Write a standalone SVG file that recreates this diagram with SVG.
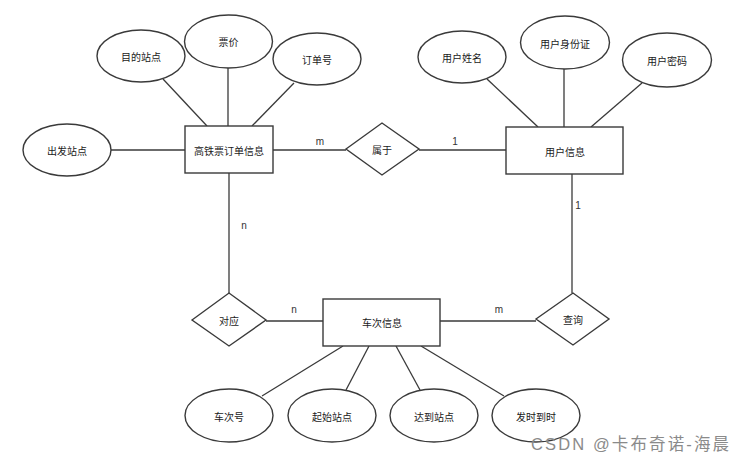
<svg xmlns="http://www.w3.org/2000/svg" width="743" height="465" viewBox="0 0 743 465">
<style>
.shape{fill:#fff;stroke:#3a3a3a;stroke-width:1.4}
.conn line{stroke:#3a3a3a;stroke-width:1.3}
.t{font-family:"Noto Sans CJK SC","Liberation Sans",sans-serif;font-size:10px;fill:#1a1a1a;text-anchor:middle;dominant-baseline:central}
.lbl{font-family:"Liberation Sans",sans-serif;font-size:10px;fill:#333;text-anchor:middle;dominant-baseline:central}
.wm{font-family:"Liberation Sans","Noto Sans CJK SC",sans-serif;font-size:16.5px;fill:#8a8a8a}
</style>
<rect width="743" height="465" fill="#fff"/>
<g id="connectors" class="conn">
<line x1="163" y1="79" x2="207" y2="126"/>
<line x1="228" y1="68" x2="228" y2="126"/>
<line x1="294" y1="83" x2="252" y2="126"/>
<line x1="111" y1="150" x2="185" y2="150"/>
<line x1="273" y1="150" x2="346" y2="150"/>
<line x1="419" y1="150" x2="506" y2="150"/>
<line x1="487" y1="79" x2="538" y2="127"/>
<line x1="564" y1="69" x2="564" y2="127"/>
<line x1="642" y1="83" x2="591" y2="127"/>
<line x1="229" y1="173" x2="229" y2="293"/>
<line x1="572" y1="174" x2="572" y2="293"/>
<line x1="266" y1="321" x2="323" y2="321"/>
<line x1="440" y1="321" x2="536" y2="321"/>
<line x1="262" y1="396" x2="343" y2="346"/>
<line x1="346" y1="390" x2="369" y2="346"/>
<line x1="420" y1="390" x2="396" y2="346"/>
<line x1="504" y1="396" x2="421" y2="346"/>
</g>
<g id="order"><rect class="shape" x="185" y="126" width="88" height="47"/><text class="t" x="229" y="150">高铁票订单信息</text></g>
<g id="dest"><ellipse class="shape" cx="141" cy="56" rx="44" ry="26"/><text class="t" x="141" y="56">目的站点</text></g>
<g id="price"><ellipse class="shape" cx="228.5" cy="41.5" rx="44" ry="26.5"/><text class="t" x="228.5" y="41">票价</text></g>
<g id="orderno"><ellipse class="shape" cx="317" cy="59" rx="44" ry="26"/><text class="t" x="317" y="59">订单号</text></g>
<g id="depart"><ellipse class="shape" cx="67" cy="150" rx="44" ry="26"/><text class="t" x="67" y="150">出发站点</text></g>
<g id="belong"><polygon class="shape" points="346,149 382,123 419,149 382,175"/><text class="t" x="382" y="149">属于</text></g>
<g id="user"><rect class="shape" x="506" y="127" width="117" height="47"/><text class="t" x="565" y="151">用户信息</text></g>
<g id="uname"><ellipse class="shape" cx="462" cy="57" rx="44" ry="26"/><text class="t" x="462" y="57">用户姓名</text></g>
<g id="uid"><ellipse class="shape" cx="565" cy="42.5" rx="44.5" ry="26.5"/><text class="t" x="565" y="43">用户身份证</text></g>
<g id="upwd"><ellipse class="shape" cx="667" cy="60" rx="44.5" ry="27"/><text class="t" x="667" y="60">用户密码</text></g>
<g id="corr"><polygon class="shape" points="192,320 229,293 266,320 229,346"/><text class="t" x="229" y="320">对应</text></g>
<g id="train"><rect class="shape" x="323" y="299" width="117" height="47"/><text class="t" x="382" y="322">车次信息</text></g>
<g id="query"><polygon class="shape" points="536,319 573,293 609,319 573,345"/><text class="t" x="573" y="319">查询</text></g>
<g id="trainno"><ellipse class="shape" cx="229" cy="415.5" rx="44" ry="26.5"/><text class="t" x="229" y="416">车次号</text></g>
<g id="start"><ellipse class="shape" cx="332" cy="415.5" rx="44" ry="26.5"/><text class="t" x="332" y="416">起始站点</text></g>
<g id="arrive"><ellipse class="shape" cx="434" cy="415.5" rx="44" ry="26.5"/><text class="t" x="434" y="416">达到站点</text></g>
<g id="times"><ellipse class="shape" cx="536" cy="415.5" rx="44" ry="26.5"/><text class="t" x="536" y="416">发时到时</text></g>
<g id="labels">
<text class="lbl" x="320" y="141">m</text>
<text class="lbl" x="455" y="141">1</text>
<text class="lbl" x="244" y="225">n</text>
<text class="lbl" x="578" y="205">1</text>
<text class="lbl" x="294" y="309">n</text>
<text class="lbl" x="499" y="309">m</text>
</g>
<text class="wm" x="531" y="450" textLength="198" lengthAdjust="spacing">CSDN @卡布奇诺-海晨</text>
</svg>
